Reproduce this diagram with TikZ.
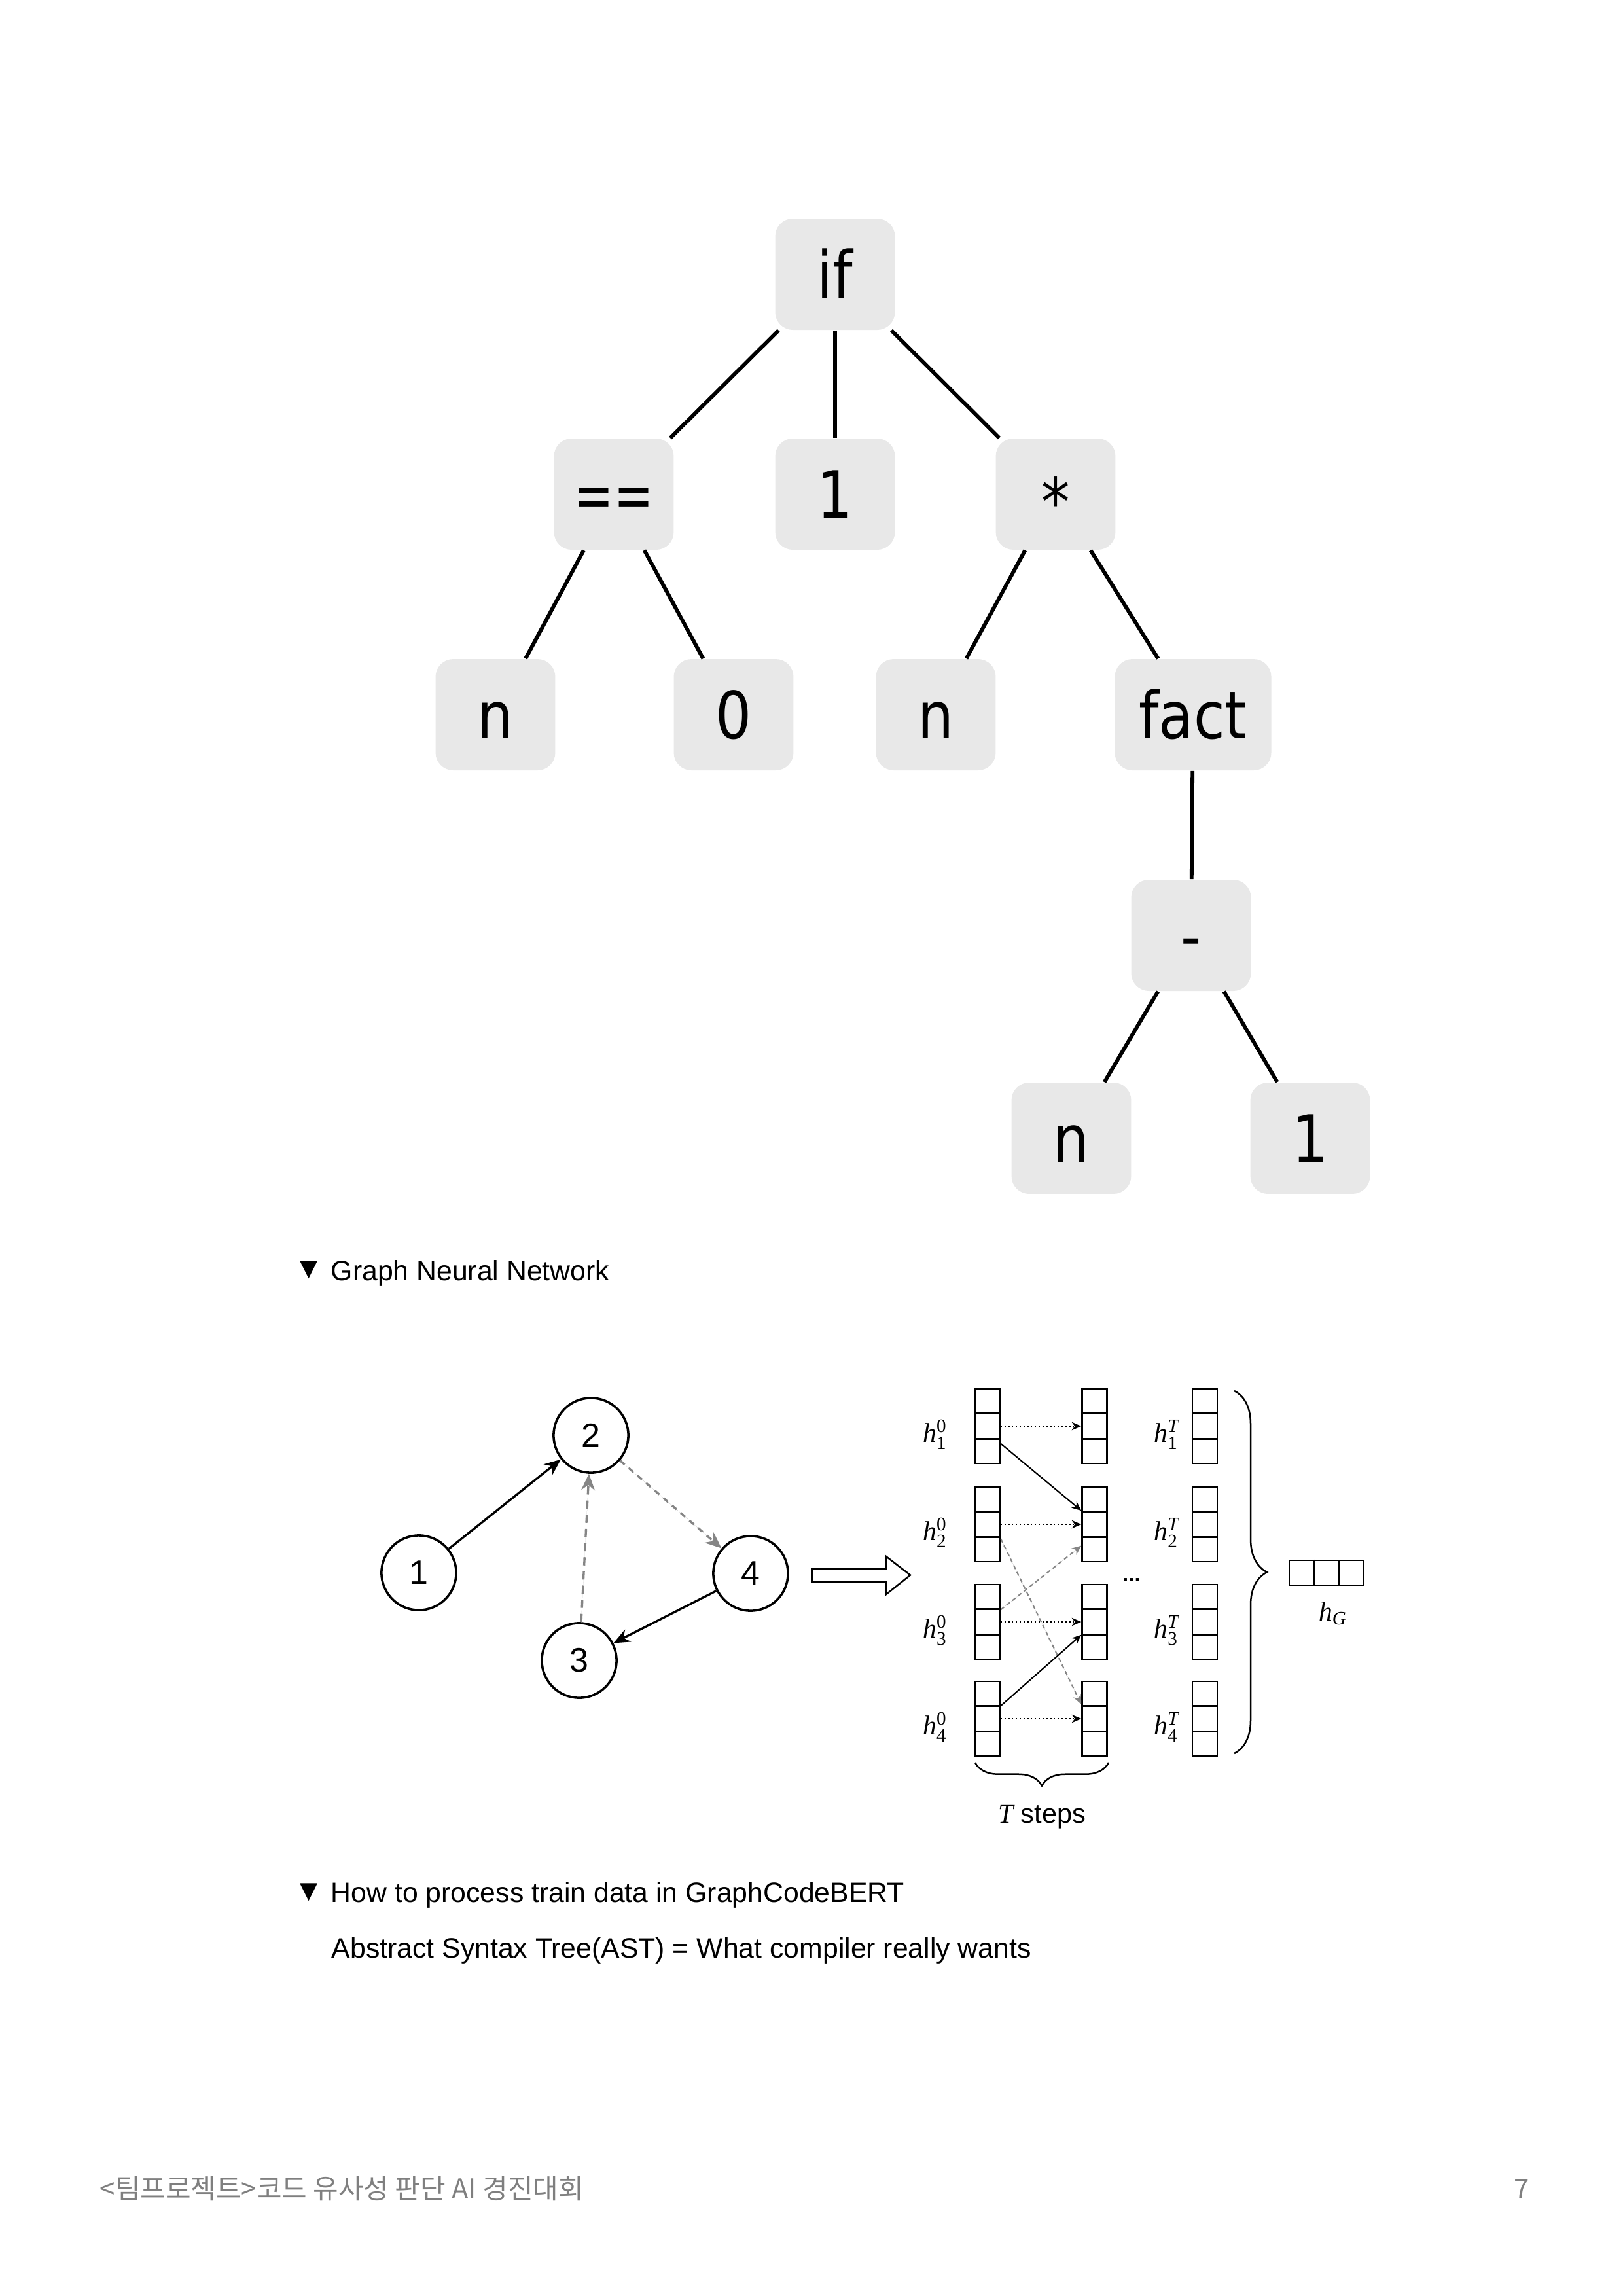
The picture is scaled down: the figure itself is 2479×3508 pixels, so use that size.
\documentclass[tikz,border=0pt]{standalone}
\usepackage{fontspec}
\setmainfont{Liberation Sans}
\newfontfamily\treefont{DejaVu Sans}
\newfontfamily\symfont{DejaVu Sans}
\newfontfamily\tms{Liberation Serif}
\newfontfamily\krfont{Noto Sans CJK KR}
\usetikzlibrary{arrows.meta,calc,decorations.pathreplacing}
\definecolor{boxgray}{HTML}{E8E8E8}
\definecolor{edgegray}{HTML}{858585}
\definecolor{footgray}{HTML}{7F7F7F}
\newcommand{\tsc}[1]{\scalebox{0.87}[1]{#1}}
\newcommand{\hlab}[2]{\mbox{\tms\itshape h}$^{\mbox{\tms\fontsize{7}{7}\selectfont #1}}_{\mbox{\tms\fontsize{7}{7}\selectfont #2}}$}
\begin{document}
\begin{tikzpicture}[x=0.24bp,y=-0.24bp,
  astnode/.style={fill=boxgray, rounded corners=6.5bp, minimum width=43.9bp,
    minimum height=40.8bp, inner sep=0pt,
    font=\treefont\fontsize{24}{24}\selectfont, text height=17.5bp, text depth=0pt},
  astedge/.style={line width=1.4bp},
  gcirc/.style={circle, draw, line width=0.85bp, minimum size=27.4bp, inner sep=0pt,
    font=\fontsize{12.5}{12.5}\selectfont},
  blkarr/.style={-{Stealth[length=6bp,width=5bp]}, line width=0.8bp},
  gryarr/.style={-{Stealth[length=6bp,width=5bp]}, line width=0.8bp, draw=edgegray,
    fill=edgegray, dash pattern=on 3bp off 2.2bp},
  cellgrp/.style={draw, line width=0.6bp, minimum width=9.12bp, minimum height=27.36bp,
    inner sep=0pt},
  dotarr/.style={-{Stealth[length=3.5bp,width=3bp]}, line width=0.4bp, densely dotted},
  solarr/.style={-{Stealth[length=3.5bp,width=3bp]}, line width=0.5bp},
  grarr/.style={-{Stealth[length=3.5bp,width=3bp]}, line width=0.5bp, draw=edgegray,
    fill=edgegray, dash pattern=on 1.5bp off 1.2bp},
  txt/.style={anchor=base west, inner sep=0pt, font=\fontsize{10.3}{12}\selectfont},
  tri/.style={inner sep=0pt, font=\symfont\fontsize{8.5}{9}\selectfont}
]
\useasboundingbox (0,0) rectangle (2479,3508);

% ---------------- AST tree ----------------
\node[astnode] (if)    at (1276,419)  {\tsc{if}};
\node[astnode] (eq)    at (938,755)   {\scalebox{0.72}[1]{==}};
\node[astnode] (one)   at (1276,755)  {\tsc{1}};
\node[astnode] (star)  at (1613,755)  {\raisebox{-2.7bp}{\tsc{*}}};
\node[astnode] (na)    at (757,1092)  {\tsc{n}};
\node[astnode] (zero)  at (1121,1092) {\tsc{0}};
\node[astnode] (nb)    at (1430,1092) {\tsc{n}};
\node[astnode, minimum width=57.4bp] (fact) at (1823,1092) {\tsc{fact}};
\node[astnode] (minus) at (1820,1429) {\tsc{-}};
\node[astnode] (nc)    at (1637,1739) {\tsc{n}};
\node[astnode] (oneb)  at (2002,1739) {\tsc{1}};

\draw[astedge] (if) -- (eq);
\draw[astedge] (if) -- (one);
\draw[astedge] (if) -- (star);
\draw[astedge] (eq) -- (na);
\draw[astedge] (eq) -- (zero);
\draw[astedge] (star) -- (nb);
\draw[astedge] (star) -- (fact);
\draw[astedge] (fact) -- (minus);
\draw[astedge] (minus) -- (nc);
\draw[astedge] (minus) -- (oneb);

% ---------------- heading 1 ----------------
\node[tri] (tri1) at (472,1940) {▼};
\node[txt] (t1) at (505,1956) {Graph Neural Network};

% ---------------- graph ----------------
\node[gcirc] (g1) at (640,2403) {1};
\node[gcirc] (g2) at (903,2193) {2};
\node[gcirc] (g3) at (885,2537) {3};
\node[gcirc] (g4) at (1147,2404) {4};
\draw[blkarr] (g1) -- (g2);
\draw[blkarr] (g4) -- (g3);
\draw[gryarr, dash pattern=on 2.2bp off 2bp] (g2) -- (g4);
\draw[gryarr] (g3) -- (g2);

% block arrow
\draw[line width=0.6bp, fill=white] (1241,2397) -- (1354,2397) -- (1354,2378)
  -- (1391,2406.5) -- (1354,2436) -- (1354,2417) -- (1241,2417) -- cycle;

% ---------------- state vectors ----------------
\foreach \c/\x in {a/1509, b/1672.5, c/1841} {
  \foreach \g/\y in {1/2179, 2/2329, 3/2478, 4/2626} {
    \node[cellgrp] (\c\g) at (\x,\y) {};
    \draw[line width=0.6bp] ($(\c\g.north west)!1/3!(\c\g.south west)$) -- ($(\c\g.north east)!1/3!(\c\g.south east)$);
    \draw[line width=0.6bp] ($(\c\g.north west)!2/3!(\c\g.south west)$) -- ($(\c\g.north east)!2/3!(\c\g.south east)$);
  }
}
\foreach \g/\y in {1/2192, 2/2342, 3/2491, 4/2639} {
  \node[font=\fontsize{10}{12}\selectfont, inner sep=0pt] (la\g) at (1429,\y) {\hlab{0}{\g}};
  \node[font=\fontsize{10}{12}\selectfont, inner sep=0pt] (lc\g) at (1783,\y) {\hlab{\itshape T}{\g}};
}

\draw[dotarr] (a1.east) -- (b1.west);
\draw[dotarr] (a2.east) -- (b2.west);
\draw[dotarr] (a3.east) -- (b3.west);
\draw[dotarr] (a4.east) -- (b4.west);
\draw[solarr] ($(a1.north east)!0.73!(a1.south east)$) -- ($(b2.north west)!0.32!(b2.south west)$);
\draw[grarr] ($(a2.north east)!0.69!(a2.south east)$) -- ($(b4.north west)!0.31!(b4.south west)$);
\draw[grarr] ($(a3.north east)!0.34!(a3.south east)$) -- ($(b2.north west)!0.78!(b2.south west)$);
\draw[solarr] ($(a4.north east)!0.33!(a4.south east)$) -- ($(b3.north west)!0.67!(b3.south west)$);

\node[font=\bfseries\fontsize{8}{8}\selectfont, inner sep=0pt] (dots) at (1729,2414) {...};

% braces
\coordinate (brt) at (1886,2125);
\coordinate (brb) at (1886,2679);
\draw[decorate, decoration={brace, amplitude=12bp}, line width=0.6bp] (brt) -- (brb);
\coordinate (bbr) at (1694,2693);
\coordinate (bbl) at (1490,2693);
\draw[decorate, decoration={brace, amplitude=8.5bp}, line width=0.6bp] (bbr) -- (bbl);
\node[font=\fontsize{10}{12}\selectfont, inner sep=0pt] (tsteps) at (1592,2776) {{\tms\itshape T} steps};

% graph vector
\node[draw, line width=0.6bp, minimum width=27.36bp, minimum height=9.12bp, inner sep=0pt] (hG) at (2027,2403) {};
\draw[line width=0.6bp] ($(hG.north west)!1/3!(hG.north east)$) -- ($(hG.south west)!1/3!(hG.south east)$);
\draw[line width=0.6bp] ($(hG.north west)!2/3!(hG.north east)$) -- ($(hG.south west)!2/3!(hG.south east)$);
\node[font=\fontsize{10}{12}\selectfont, inner sep=0pt] (hGl) at (2037,2465) {\mbox{\tms\itshape h}$_{\mbox{\tms\itshape\fontsize{7}{7}\selectfont G}}$};

% ---------------- heading 2 ----------------
\node[tri] (tri2) at (472,2891) {▼};
\node[txt] (t2) at (505,2906) {How to process train data in GraphCodeBERT};
\node[txt] (t3) at (506,2991) {Abstract Syntax Tree(AST) = What compiler really wants};

% ---------------- footer ----------------
\node[anchor=base west, inner sep=0pt, font=\krfont\fontsize{10.1}{12}\selectfont, text=footgray] (foot) at (152,3359) {<팀프로젝트>코드 유사성 판단 AI 경진대회};
\node[anchor=base west, inner sep=0pt, font=\krfont\fontsize{10.1}{12}\selectfont, text=footgray] (pnum) at (2313,3359) {7};
\end{tikzpicture}
\end{document}
